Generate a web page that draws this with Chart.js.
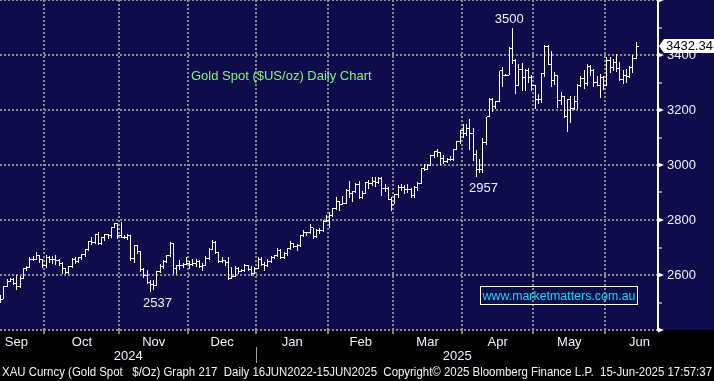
<!DOCTYPE html>
<html>
<head>
<meta charset="utf-8">
<title>Gold Spot Daily</title>
<script src="https://cdn.jsdelivr.net/npm/chart.js@4.4.1/dist/chart.umd.min.js"></script>
<style>
  html, body { margin: 0; padding: 0; background: #000; }
  #wrap { width: 714px; height: 381px; }
</style>
</head>
<body>
<div id="wrap"><canvas id="goldChart" width="714" height="381"></canvas></div>
<script>
let dates = [
  '2024-09-11','2024-09-12','2024-09-13','2024-09-16','2024-09-17','2024-09-18','2024-09-19','2024-09-20','2024-09-23','2024-09-24','2024-09-25','2024-09-26','2024-09-27','2024-09-30',
  '2024-10-01','2024-10-02','2024-10-03','2024-10-04','2024-10-07','2024-10-08','2024-10-09','2024-10-10','2024-10-11','2024-10-14','2024-10-15','2024-10-16','2024-10-17','2024-10-18','2024-10-21','2024-10-22','2024-10-23','2024-10-24','2024-10-25','2024-10-28','2024-10-29','2024-10-30','2024-10-31',
  '2024-11-01','2024-11-04','2024-11-05','2024-11-06','2024-11-07','2024-11-08','2024-11-11','2024-11-12','2024-11-13','2024-11-14','2024-11-15','2024-11-18','2024-11-19','2024-11-20','2024-11-21','2024-11-22','2024-11-25','2024-11-26','2024-11-27','2024-11-28','2024-11-29',
  '2024-12-02','2024-12-03','2024-12-04','2024-12-05','2024-12-06','2024-12-09','2024-12-10','2024-12-11','2024-12-12','2024-12-13','2024-12-16','2024-12-17','2024-12-18','2024-12-19','2024-12-20','2024-12-23','2024-12-24','2024-12-26','2024-12-27','2024-12-30','2024-12-31',
  '2025-01-02','2025-01-03','2025-01-06','2025-01-07','2025-01-08','2025-01-09','2025-01-10','2025-01-13','2025-01-14','2025-01-15','2025-01-16','2025-01-17','2025-01-20','2025-01-21','2025-01-22','2025-01-23','2025-01-24','2025-01-27','2025-01-28','2025-01-29','2025-01-30','2025-01-31',
  '2025-02-03','2025-02-04','2025-02-05','2025-02-06','2025-02-07','2025-02-10','2025-02-11','2025-02-12','2025-02-13','2025-02-14','2025-02-17','2025-02-18','2025-02-19','2025-02-20','2025-02-21','2025-02-24','2025-02-25','2025-02-26','2025-02-27','2025-02-28',
  '2025-03-03','2025-03-04','2025-03-05','2025-03-06','2025-03-07','2025-03-10','2025-03-11','2025-03-12','2025-03-13','2025-03-14','2025-03-17','2025-03-18','2025-03-19','2025-03-20','2025-03-21','2025-03-24','2025-03-25','2025-03-26','2025-03-27','2025-03-28','2025-03-31',
  '2025-04-01','2025-04-02','2025-04-03','2025-04-04','2025-04-07','2025-04-08','2025-04-09','2025-04-10','2025-04-11','2025-04-14','2025-04-15','2025-04-16','2025-04-17','2025-04-18','2025-04-21','2025-04-22','2025-04-23','2025-04-24','2025-04-25','2025-04-28','2025-04-29','2025-04-30',
  '2025-05-01','2025-05-02','2025-05-05','2025-05-06','2025-05-07','2025-05-08','2025-05-09','2025-05-12','2025-05-13','2025-05-14','2025-05-15','2025-05-16','2025-05-19','2025-05-20','2025-05-21','2025-05-22','2025-05-23','2025-05-26','2025-05-27','2025-05-28','2025-05-29','2025-05-30',
  '2025-06-02','2025-06-03','2025-06-04','2025-06-05','2025-06-06','2025-06-09','2025-06-10','2025-06-11','2025-06-12','2025-06-13'
]

let opens = [
  2516,2512,2558,2578,2582,2569,2559,2587,2622,2628,2657,2657,2672,2658,
  2634,2663,2658,2656,2653,2643,2622,2608,2630,2657,2649,2662,2674,2693,2721,2720,2748,2715,2736,2747,2743,2774,2788,
  2744,2736,2736,2742,2659,2706,2685,2619,2598,2573,2565,2563,2611,2631,2650,2670,2715,2625,2633,2636,2639,
  2643,2640,2643,2650,2632,2633,2660,2694,2718,2680,2648,2652,2646,2586,2594,2622,2613,2617,2634,2621,2606,
  2625,2658,2640,2636,2649,2662,2670,2690,2663,2677,2696,2714,2703,2708,2744,2755,2754,2771,2740,2763,2760,2794,
  2798,2815,2842,2866,2856,2861,2908,2898,2904,2928,2882,2898,2935,2933,2939,2936,2951,2915,2916,2875,
  2858,2893,2918,2920,2910,2910,2890,2918,2934,2988,2984,3000,3035,3048,3044,3023,3011,3019,3019,3057,3084,
  3124,3113,3134,3114,3037,2982,2983,3083,3175,3237,3211,3230,3343,3327,3327,3424,3381,3288,3349,3319,3344,3317,
  3288,3239,3240,3333,3430,3366,3307,3325,3236,3249,3178,3240,3204,3230,3290,3314,3295,3357,3342,3301,3288,3318,
  3289,3381,3353,3373,3352,3310,3326,3322,3355,3386
]

let highs = [
  2527,2559,2586,2590,2589,2600,2596,2625,2633,2664,2670,2685,2674,2660,
  2673,2668,2670,2671,2660,2646,2625,2633,2661,2666,2666,2678,2696,2722,2740,2749,2758,2738,2749,2749,2774,2790,2790,
  2791,2746,2750,2746,2710,2709,2686,2626,2618,2581,2581,2616,2639,2656,2674,2721,2717,2636,2655,2645,2665,
  2651,2657,2658,2656,2645,2668,2697,2726,2722,2683,2665,2656,2664,2630,2632,2630,2623,2640,2638,2634,2630,
  2665,2665,2649,2660,2670,2674,2698,2693,2682,2697,2724,2716,2713,2746,2763,2758,2786,2772,2766,2770,2799,2817,
  2830,2845,2882,2869,2886,2911,2942,2906,2935,2942,2904,2938,2947,2955,2955,2956,2956,2930,2920,2882,
  2896,2927,2930,2927,2930,2915,2923,2940,2990,3005,3002,3038,3050,3057,3047,3036,3025,3033,3059,3087,3128,
  3149,3148,3168,3136,3055,3023,3099,3176,3245,3245,3233,3343,3357,3331,3430,3500,3386,3367,3370,3350,3353,3329,
  3290,3259,3336,3435,3437,3414,3340,3326,3266,3252,3240,3252,3250,3295,3325,3345,3366,3365,3350,3325,3330,3325,
  3392,3392,3385,3403,3375,3345,3349,3360,3399,3446
]

let lows = [
  2500,2511,2556,2574,2565,2547,2553,2585,2614,2624,2652,2654,2643,2625,
  2624,2643,2641,2636,2634,2605,2604,2603,2626,2640,2643,2654,2667,2686,2708,2713,2708,2710,2725,2730,2735,2771,2730,
  2733,2730,2727,2652,2643,2677,2610,2590,2568,2537,2545,2560,2606,2621,2643,2664,2603,2605,2619,2627,2637,
  2622,2631,2630,2626,2614,2631,2655,2690,2676,2643,2645,2633,2583,2584,2592,2603,2610,2612,2616,2597,2602,
  2623,2633,2615,2629,2645,2659,2665,2657,2660,2670,2692,2697,2689,2701,2740,2741,2750,2730,2736,2750,2757,2791,
  2771,2810,2836,2834,2853,2858,2880,2864,2897,2878,2876,2895,2914,2922,2920,2931,2889,2900,2871,2832,
  2857,2880,2904,2895,2897,2880,2880,2907,2932,2978,2982,2998,3025,3030,2999,3002,3006,3014,3015,3055,3076,
  3100,3105,3054,3015,2957,2970,2970,3073,3175,3194,3205,3228,3284,3322,3326,3367,3260,3287,3268,3268,3300,3268,
  3202,3222,3226,3320,3365,3285,3290,3207,3220,3171,3121,3154,3200,3204,3285,3277,3287,3325,3285,3286,3245,3271,
  3289,3333,3342,3339,3306,3293,3300,3316,3334,3385
]

let closes = [
  2512,2558,2578,2582,2569,2559,2587,2622,2628,2657,2657,2672,2658,2634,
  2663,2658,2656,2653,2643,2622,2608,2630,2657,2649,2662,2674,2693,2721,2720,2748,2715,2736,2747,2743,2774,2788,2744,
  2736,2736,2742,2659,2706,2685,2619,2598,2573,2565,2563,2611,2631,2650,2670,2715,2625,2633,2636,2639,2643,
  2640,2643,2650,2632,2633,2660,2694,2718,2680,2648,2652,2646,2586,2594,2622,2613,2617,2634,2621,2606,2625,
  2658,2640,2636,2649,2662,2670,2690,2663,2677,2696,2714,2703,2708,2744,2755,2754,2771,2740,2763,2760,2794,2798,
  2815,2842,2866,2856,2861,2908,2898,2904,2928,2882,2898,2935,2933,2939,2936,2951,2915,2916,2875,2858,
  2893,2918,2920,2910,2910,2890,2918,2934,2988,2984,3000,3035,3048,3044,3023,3011,3019,3019,3057,3084,3124,
  3113,3134,3114,3037,2982,2983,3083,3175,3237,3211,3230,3343,3327,3327,3424,3381,3288,3349,3319,3344,3317,3288,
  3239,3240,3333,3430,3366,3307,3325,3236,3249,3178,3240,3204,3230,3290,3314,3295,3357,3342,3301,3288,3318,3289,
  3381,3353,3373,3352,3310,3326,3322,3355,3386,3432.34
]

let yLabels = [2600, 2800, 3000, 3200, 3400]
let monthNames = ['Jan','Feb','Mar','Apr','May','Jun','Jul','Aug','Sep','Oct','Nov','Dec']
let highNotes = ['2025-04-22']
let lowNotes = ['2024-11-14', '2025-04-07']
let chartTitle = 'Gold Spot ($US/oz) Daily Chart'
let siteText = 'www.marketmatters.com.au'
let footerText = 'XAU Curncy (Gold Spot   $/Oz) Graph 217  Daily 16JUN2022-15JUN2025  Copyright\u00a9 2025 Bloomberg Finance L.P.  15-Jun-2025 17:57:37'

let xMin = -0.15
let xMax = 201.7
let fontFamily = '"Liberation Sans", Arial, sans-serif'

// month groups, taken from the dates
let monthSegs = []
dates.forEach(function (d, i) {
  let key = d.slice(0, 7)
  let last = monthSegs[monthSegs.length - 1]
  if (!last || last.key !== key) monthSegs.push({ key: key, start: i, end: i })
  else last.end = i
})
let boundaries = monthSegs.slice(1).map(s => s.start - 0.5)

function weekdaysInMonth(y, m) {
  let n = 0
  let d = new Date(Date.UTC(y, m, 1))
  while (d.getUTCMonth() === m) {
    let wd = d.getUTCDay()
    if (wd > 0 && wd < 6) n++
    d.setUTCDate(d.getUTCDate() + 1)
  }
  return n
}

let monthCenters = monthSegs.map(function (s, k) {
  let y = +s.key.slice(0, 4), m = +s.key.slice(5, 7) - 1
  let full = weekdaysInMonth(y, m)
  if (k === monthSegs.length - 1) return s.start - 0.5 + full / 2
  if (k === 0) return Math.max(s.end + 0.5 - full / 2, xMin + 5)
  return (s.start + s.end) / 2
})
let monthLabels = monthSegs.map(s => monthNames[+s.key.slice(5, 7) - 1])

let yearBreak = dates.findIndex((d, i) => i > 0 && d.slice(0, 4) !== dates[i - 1].slice(0, 4)) - 0.5

// no label overhang padding, the plot fills the frame
function noPad(scale) {
  scale.paddingTop = 0
  scale.paddingBottom = 0
  scale.paddingLeft = 0
  scale.paddingRight = 0
}

// crisp OHLC bars from the bar elements
const ohlcBars = {
  id: 'ohlcBars',
  beforeDatasetDraw(chart, args) {
    const ctx = chart.ctx
    const yScale = chart.scales.y
    ctx.save()
    ctx.fillStyle = '#ffffff'
    args.meta.data.forEach(function (bar, i) {
      const x = Math.round(bar.x - 0.5)
      const top = Math.round(Math.min(bar.y, bar.base))
      const bottom = Math.round(Math.max(bar.y, bar.base))
      ctx.fillRect(x, top, 1, Math.max(1, bottom - top))
      const yo = Math.round(yScale.getPixelForValue(opens[i]) - 0.5)
      const yc = Math.round(yScale.getPixelForValue(closes[i]) - 0.5)
      ctx.fillRect(x - 2, yo, 2, 1)
      ctx.fillRect(x + 1, yc, 2, 1)
    })
    ctx.restore()
    return false
  }
}

const extras = {
  id: 'extras',
  beforeDraw(chart) {
    const { ctx, chartArea } = chart
    ctx.save()
    ctx.fillStyle = '#000000'
    ctx.fillRect(0, 0, chart.width, chart.height)
    ctx.fillStyle = '#0e0c4a'
    ctx.fillRect(0, 0, chart.width, chartArea.bottom)
    ctx.restore()
  },
  afterDraw(chart) {
    const { ctx, chartArea } = chart
    const xs = chart.scales.x
    const ys = chart.scales.y
    ctx.save()

    // arrow markers on the price axis
    ctx.fillStyle = '#ffffff'
    for (let v = ys.min; v <= ys.max; v += 200) {
      const py = ys.getPixelForValue(v)
      ctx.beginPath()
      ctx.moveTo(chartArea.right, py - 2.5)
      ctx.lineTo(chartArea.right + 6, py)
      ctx.lineTo(chartArea.right, py + 2.5)
      ctx.closePath()
      ctx.fill()
    }

    // high / low notes
    ctx.font = '13px ' + fontFamily
    ctx.fillStyle = '#eef2ff'
    ctx.textAlign = 'center'
    ctx.textBaseline = 'alphabetic'
    highNotes.forEach(function (d) {
      const i = dates.indexOf(d)
      ctx.fillText(String(Math.round(highs[i])), xs.getPixelForValue(i) - 3, ys.getPixelForValue(highs[i]) - 5)
    })
    lowNotes.forEach(function (d) {
      const i = dates.indexOf(d)
      ctx.fillText(String(Math.round(lows[i])), xs.getPixelForValue(i) + 7, ys.getPixelForValue(lows[i]) + 15)
    })

    // title
    ctx.textAlign = 'left'
    ctx.fillStyle = '#88f088'
    ctx.fillText(chartTitle, 191, 80)

    // website box
    ctx.strokeStyle = '#ffffff'
    ctx.lineWidth = 1
    ctx.strokeRect(480.5, 286.5, 157, 18)
    ctx.fillStyle = '#1ad8f0'
    ctx.textAlign = 'center'
    ctx.textBaseline = 'middle'
    ctx.fillText(siteText, 559, 296, 153)

    // years
    const bx = xs.getPixelForValue(yearBreak)
    ctx.fillStyle = '#eef2ff'
    ctx.fillText(dates[0].slice(0, 4), (chartArea.left + bx) / 2, 356)
    ctx.fillText(dates[dates.length - 1].slice(0, 4), (bx + chartArea.right) / 2, 356)
    ctx.strokeStyle = '#a0a0a0'
    ctx.beginPath()
    ctx.moveTo(Math.round(bx) + 0.5, 347)
    ctx.lineTo(Math.round(bx) + 0.5, 363)
    ctx.stroke()

    // last price tag
    const last = closes[closes.length - 1]
    const ty = ys.getPixelForValue(last)
    ctx.fillStyle = '#ffffff'
    ctx.beginPath()
    ctx.moveTo(chartArea.right + 1, ty)
    ctx.lineTo(chartArea.right + 6, ty - 7)
    ctx.lineTo(chart.width + 2, ty - 7)
    ctx.lineTo(chart.width + 2, ty + 7)
    ctx.lineTo(chartArea.right + 6, ty + 7)
    ctx.closePath()
    ctx.fill()
    ctx.fillStyle = '#000000'
    ctx.textAlign = 'left'
    ctx.fillText(last.toFixed(2), chartArea.right + 8, ty + 0.5)

    // footer
    ctx.font = '12px ' + fontFamily
    ctx.fillStyle = '#f4f4f4'
    ctx.fillText(footerText, 2, 373, 710)
    ctx.restore()
  }
}

let goldCtx = document.getElementById('goldChart').getContext('2d')

let goldChart = new Chart(goldCtx, {
  type: 'bar',
  data: {
    datasets: [
      {
        label: 'XAU',
        data: dates.map((d, i) => ({ x: i, y: [lows[i], highs[i]] })),
        backgroundColor: '#ffffff',
        borderWidth: 0,
        barThickness: 1,
      },
    ],
  },
  options: {
    responsive: false,
    animation: false,
    events: [],
    layout: { padding: 0, autoPadding: false },
    plugins: {
      legend: { display: false },
      tooltip: { enabled: false },
    },
    scales: {
      x: {
        type: 'linear',
        position: 'bottom',
        min: xMin,
        max: xMax,
        offset: false,
        weight: 0,
        afterBuildTicks: scale => { scale.ticks = boundaries.map(v => ({ value: v })) },
        afterFit: scale => { scale.height = 4; noPad(scale) },
        ticks: { display: false },
        grid: {
          offset: false,
          color: '#8c8c8c',
          lineWidth: 2,
          drawTicks: true,
          tickLength: 4,
          tickColor: '#ffffff',
          tickWidth: 1,
        },
        border: { display: false, dash: [2, 2] },
      },
      x2: {
        type: 'linear',
        position: 'bottom',
        min: xMin,
        max: xMax,
        offset: false,
        weight: 1,
        afterBuildTicks: scale => { scale.ticks = monthCenters.map(v => ({ value: v })) },
        afterFit: scale => { scale.height = 47; noPad(scale) },
        ticks: {
          autoSkip: false,
          maxRotation: 0,
          padding: 1,
          color: '#eef2ff',
          font: { family: fontFamily, size: 13 },
          callback: (v, i) => monthLabels[i],
        },
        grid: { display: false, drawTicks: false },
        border: { display: false },
      },
      y: {
        type: 'linear',
        position: 'right',
        min: 2400,
        max: 3600,
        afterFit: scale => { scale.width = 56; noPad(scale) },
        ticks: {
          stepSize: 100,
          autoSkip: false,
          padding: 5,
          color: '#eef2ff',
          font: { family: fontFamily, size: 13 },
          callback: v => yLabels.includes(v) ? String(v) : '',
        },
        grid: {
          color: c => (c.tick && c.tick.value % 200 === 0) ? '#8c8c8c' : 'rgba(0,0,0,0)',
          lineWidth: 2,
          drawTicks: true,
          tickLength: 4,
          tickColor: '#ffffff',
          tickWidth: 1,
        },
        border: { display: true, color: '#ffffff', width: 2, dash: [2, 2] },
      },
    },
  },
  plugins: [ohlcBars, extras],
})
</script>
</body>
</html>
